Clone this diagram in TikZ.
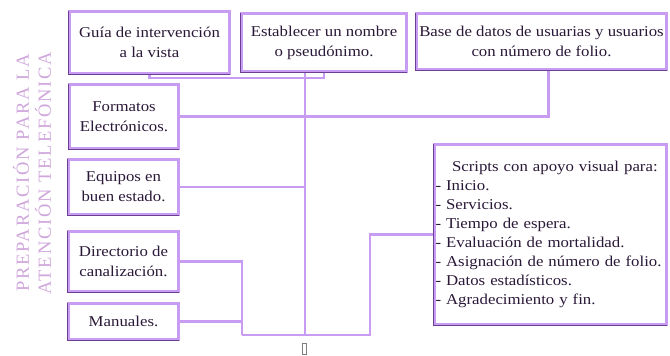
\documentclass[tikz,border=0pt]{standalone}
\usepackage{fontspec}
\setmainfont{Liberation Serif}[FakeStretch=1.12]
\newfontfamily\spacedfont[LetterSpace=10]{Liberation Serif}
\definecolor{lav}{HTML}{C79CF2}
\definecolor{dk}{HTML}{6B3F92}
\definecolor{txt}{HTML}{2A1838}
\definecolor{side}{HTML}{CFA6DC}
\begin{document}
\begin{tikzpicture}[x=1pt,y=-1pt,
  box/.style={draw=lav, line width=3pt, fill=white, anchor=north west, align=center,
    inner sep=2pt, text=txt, font=\fontsize{15}{20}\selectfont},
  conn/.style={draw=lav, line width=2.6pt},
  sidetxt/.style={text=side, rotate=90, font=\spacedfont\fontsize{18.5}{18.5}\selectfont}]
\useasboundingbox (0,0) rectangle (670,356);
% side titles
\node[sidetxt] (t1) at (21,173) {PREPARACIÓN PARA LA};
\node[sidetxt] (t2) at (43,173) {ATENCIÓN TELEFÓNICA};
% boxes
\node[box, minimum width=160pt, minimum height=62pt] (g) at (68,10) {Guía de intervención\\a la vista};
\node[box, minimum width=165pt, minimum height=58pt] (e) at (240,12) {Establecer un nombre\\o pseudónimo.};
\node[box, minimum width=250pt, minimum height=56pt] (b) at (415,12) {Base de datos de usuarias y usuarios\\con número de folio.};
\node[box, minimum width=109pt, minimum height=64pt] (f) at (68,83) {Formatos\\Electrónicos.};
\node[box, minimum width=110pt, minimum height=55pt] (q) at (67,158) {Equipos en\\buen estado.};
\node[box, minimum width=110pt, minimum height=60pt] (d) at (67,230) {Directorio de\\canalización.};
\node[box, minimum width=110pt, minimum height=36pt] (m) at (67,302) {Manuales.};
\node[box, minimum width=232pt, minimum height=180pt, align=left, text width=230pt, inner sep=1pt,
  font=\fontsize{15}{19}\selectfont] (s) at (433,143) {\hspace*{1.1em}Scripts con apoyo visual para:\\- Inicio.\\- Servicios.\\- Tiempo de espera.\\- Evaluación de mortalidad.\\\mbox{- Asignación de número de folio.}\\- Datos estadísticos.\\- Agradecimiento y fin.};
% bevels
\foreach \n in {g,e,b,f,q,d,m,s}{
  \draw[dk, line width=1.3pt] ([xshift=0.2pt,yshift=-1pt]\n.north west) -- ([xshift=0.2pt,yshift=0.6pt]\n.south west) -- ([xshift=-1pt,yshift=0.6pt]\n.south east);
}
% junctions
\coordinate (jb) at (305,335);
\coordinate (jl) at (242,335);
\coordinate (jr) at (370,335);
% connectors
\draw[conn] (g.south) -- ++(0,3) -| (e.south);
\draw[conn] (e.south -| jb) -- (jb);
\draw[conn] (f.east) -| ([xshift=7pt]b.south);
\draw[conn] (q.east) -- (q.east -| jb);
\draw[conn] (d.east) -| (jl);
\draw[conn] (m.east) -- (m.east -| jl);
\draw[conn] (jl) -- (jr) |- (s.west);
% small glyph
\node[draw=gray, line width=0.6pt, minimum width=4pt, minimum height=11pt, inner sep=0pt] (gl) at (304.5,349) {};
\end{tikzpicture}
\end{document}
